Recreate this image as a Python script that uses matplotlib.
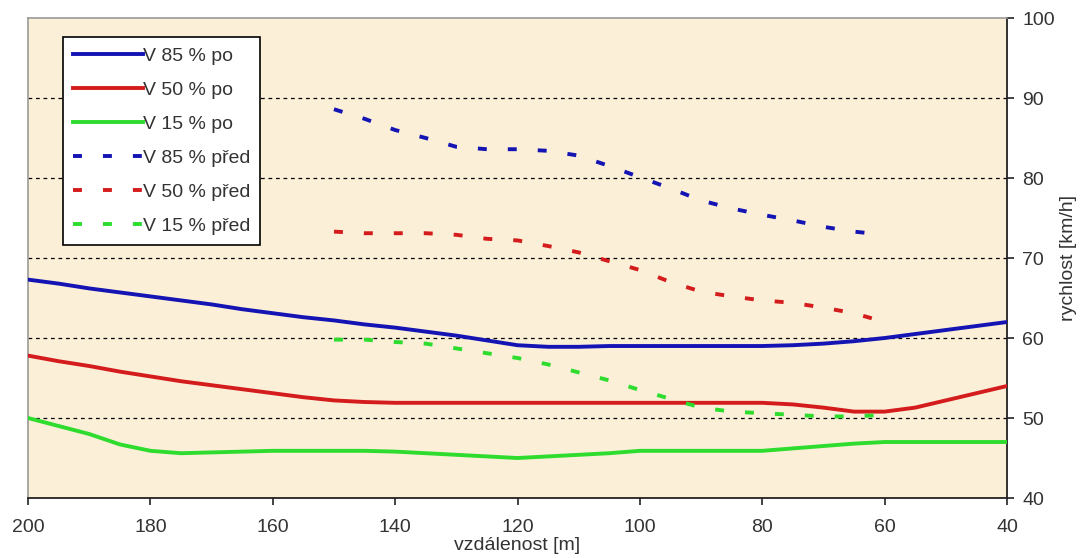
import numpy as np
import matplotlib
matplotlib.use("Agg")
import matplotlib.pyplot as plt

plt.rcParams['font.family'] = ['Liberation Sans', 'DejaVu Sans']

# vzdalenost [m] - "po" curves
x_po = [200, 195, 190, 185, 180, 175, 170, 165, 160, 155, 150, 145, 140, 135, 130, 125,
        120, 115, 110, 105, 100, 95, 90, 85, 80, 75, 70, 65, 60, 55, 50, 45, 40]
v85_po = [67.3, 66.8, 66.2, 65.7, 65.2, 64.7, 64.2, 63.6, 63.1, 62.6, 62.2, 61.7, 61.3, 60.8, 60.3, 59.7,
          59.1, 58.9, 58.9, 59.0, 59.0, 59.0, 59.0, 59.0, 59.0, 59.1, 59.3, 59.6, 60.0, 60.5, 61.0, 61.5, 62.0]
v50_po = [57.8, 57.1, 56.5, 55.8, 55.2, 54.6, 54.1, 53.6, 53.1, 52.6, 52.2, 52.0, 51.9, 51.9, 51.9, 51.9,
          51.9, 51.9, 51.9, 51.9, 51.9, 51.9, 51.9, 51.9, 51.9, 51.7, 51.3, 50.8, 50.8, 51.3, 52.2, 53.1, 54.0]
v15_po = [50.0, 49.0, 48.0, 46.7, 45.9, 45.6, 45.7, 45.8, 45.9, 45.9, 45.9, 45.9, 45.8, 45.6, 45.4, 45.2,
          45.0, 45.2, 45.4, 45.6, 45.9, 45.9, 45.9, 45.9, 45.9, 46.2, 46.5, 46.8, 47.0, 47.0, 47.0, 47.0, 47.0]

# "pred" curves
x_pred = [150, 145, 140, 135, 130, 125, 120, 115, 110, 105, 100, 95, 90, 85, 80, 75, 70, 65, 60]
v85_pred = [88.6, 87.4, 86.0, 85.0, 83.9, 83.6, 83.6, 83.4, 82.8, 81.5, 80.1, 78.7, 77.2, 76.2, 75.4,
            74.7, 73.9, 73.3, 72.9]
v50_pred = [73.3, 73.1, 73.1, 73.1, 72.9, 72.4, 72.2, 71.5, 70.7, 69.6, 68.5, 67.0, 65.8, 65.2, 64.7,
            64.4, 63.8, 63.1, 62.0]
v15_pred = [59.8, 59.8, 59.5, 59.3, 58.7, 58.1, 57.5, 56.7, 55.7, 54.7, 53.5, 52.4, 51.3, 50.8, 50.6,
            50.4, 50.2, 50.2, 50.4]

blue = '#1414b4'
red = '#d41c1c'
green = '#2edc2e'
txt = '#333333'
fs = 14

fig = plt.figure(figsize=(10.83, 5.58), dpi=100)
ax = fig.add_axes([0.0259, 0.1075, 0.9039, 0.8602])
ax.set_facecolor('#fbefd8')

# dotted grid lines
for yv in [50, 60, 70, 80, 90]:
    ax.axhline(yv, color='black', lw=0.9, ls=(0, (3, 3)), zorder=1)

lw = 2.8
ax.plot(x_po, v85_po, color=blue, lw=lw, label='V 85 % po', zorder=3)
ax.plot(x_po, v50_po, color=red, lw=lw, label='V 50 % po', zorder=3)
ax.plot(x_po, v15_po, color=green, lw=lw, label='V 15 % po', zorder=3)
ds = (0, (2.3, 5.4))
ax.plot(x_pred, v85_pred, color=blue, lw=lw, ls=ds, label='V 85 % před', zorder=3)
ax.plot(x_pred, v50_pred, color=red, lw=lw, ls=ds, label='V 50 % před', zorder=3)
ax.plot(x_pred, v15_pred, color=green, lw=lw, ls=ds, label='V 15 % před', zorder=3)

ax.set_xlim(200, 40)
ax.set_ylim(40, 100)
ax.set_xticks([200, 180, 160, 140, 120, 100, 80, 60, 40])
ax.set_yticks([40, 50, 60, 70, 80, 90, 100])
ax.yaxis.tick_right()
ax.yaxis.set_label_position('right')
ax.tick_params(axis='both', direction='out', length=5, width=1.2, colors='#222222',
               labelsize=fs, labelcolor=txt)
ax.tick_params(axis='y', pad=6)
ax.tick_params(axis='x', pad=10)

for s in ['left', 'top']:
    ax.spines[s].set_color('#9a9a9a')
    ax.spines[s].set_linewidth(1.2)
for s in ['right', 'bottom']:
    ax.spines[s].set_color('#222222')
    ax.spines[s].set_linewidth(1.3)

ax.set_xlabel('vzdálenost [m]', fontsize=fs, color=txt, labelpad=1)
ax.set_ylabel('rychlost [km/h]', fontsize=fs, color=txt, labelpad=4)

leg = ax.legend(loc='upper left', bbox_to_anchor=(0.0358, 0.960), borderaxespad=0,
                fancybox=False, framealpha=1, edgecolor='black', fontsize=fs,
                handlelength=3.6, handletextpad=0.0, labelspacing=0.85,
                borderpad=0.5)
leg.get_frame().set_linewidth(1.2)
for t in leg.get_texts():
    t.set_color(txt)

fig.savefig('out.png', dpi=100, facecolor='white')
